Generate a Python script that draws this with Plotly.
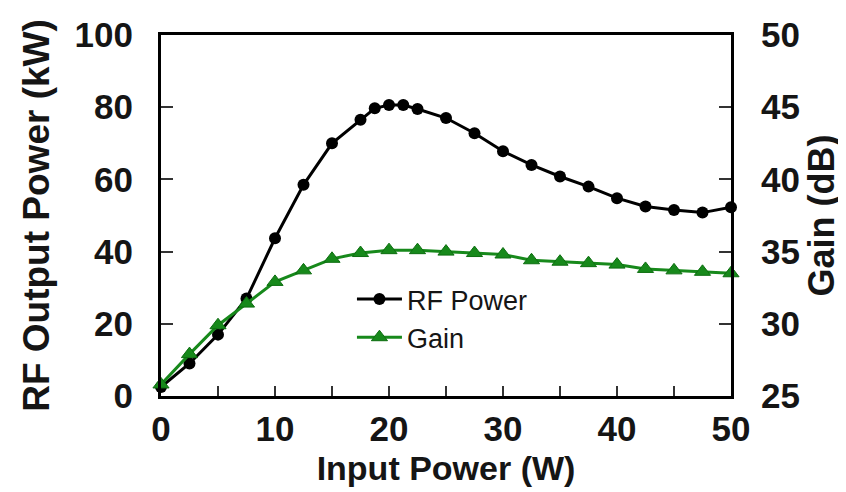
import plotly.graph_objects as go

# Data
input_power_w = [0, 2.5, 5, 7.5, 10, 12.5, 15, 17.5, 18.75, 20, 21.25, 22.5, 25, 27.5,
                 30, 32.5, 35, 37.5, 40, 42.5, 45, 47.5, 50]
rf_power_kw = [2.5, 9, 17, 27, 43.7, 58.5, 70, 76.5, 79.7, 80.6, 80.6, 79.5, 77, 72.8,
               67.8, 64, 60.8, 58, 54.8, 52.5, 51.5, 50.8, 52.3]
gain_x = [0, 2.5, 5, 7.5, 10, 12.5, 15, 17.5, 20, 22.5, 25, 27.5, 30, 32.5, 35,
          37.5, 40, 42.5, 45, 47.5, 50]
gain_db = [25.8, 27.9, 29.9, 31.4, 32.9, 33.7, 34.5, 34.9, 35.1, 35.1, 35.0, 34.9,
           34.8, 34.4, 34.3, 34.2, 34.1, 33.8, 33.7, 33.6, 33.5]

x_ticks = [0, 10, 20, 30, 40, 50]
y1_ticks = [0, 20, 40, 60, 80, 100]
y2_ticks = [25, 30, 35, 40, 45, 50]

FONT = "Liberation Sans, Arial, sans-serif"
TXT = "#151515"
GREEN = "#17891b"

fig = go.Figure()
fig.add_trace(go.Scatter(
    x=input_power_w, y=rf_power_kw, name="RF Power", mode="lines+markers",
    line=dict(color="black", width=3),
    marker=dict(symbol="circle", size=12, color="black"),
    yaxis="y", cliponaxis=False,
))
fig.add_trace(go.Scatter(
    x=gain_x, y=gain_db, name="Gain", mode="lines+markers",
    line=dict(color=GREEN, width=3),
    marker=dict(symbol="triangle-up", size=14, color=GREEN,
                line=dict(color="#0d6e10", width=1)),
    yaxis="y2", cliponaxis=False,
))

axis_common = dict(showgrid=False, zeroline=False, showline=True, linecolor="black",
                   linewidth=3, ticks="inside", tickcolor="#333", tickwidth=1.5,
                   automargin=False,
                   tickfont=dict(family=FONT, size=35, color=TXT, weight="bold"))

fig.update_layout(
    width=846, height=492,
    margin=dict(l=153, r=123, t=27, b=104),
    paper_bgcolor="white", plot_bgcolor="white",
    font=dict(family=FONT, color=TXT),
    xaxis=dict(range=[0, 50], tickvals=x_ticks, ticklen=10, mirror=True,
               minor=dict(dtick=5, ticks="inside", ticklen=10, tickcolor="#333", tickwidth=1.5),
               ticklabelstandoff=0,
               title=dict(text="Input Power (W)",
                          font=dict(family=FONT, size=34, color=TXT, weight="bold"),
                          standoff=10),
               **axis_common),
    yaxis=dict(range=[0, 100], tickvals=y1_ticks, ticklen=12, ticklabelstandoff=18,
               title=dict(text="RF Output Power (kW)",
                          font=dict(family=FONT, size=37, color=TXT, weight="bold"),
                          standoff=14),
               **axis_common),
    yaxis2=dict(range=[25, 50], tickvals=y2_ticks, ticklen=12, overlaying="y", side="right",
                ticklabelstandoff=20,
                title=dict(text="Gain (dB)",
                           font=dict(family=FONT, size=36, color=TXT, weight="bold"),
                           standoff=10),
                **axis_common),
    showlegend=True,
    legend=dict(x=0.335, y=0.335, xanchor="left", yanchor="top", bgcolor="rgba(0,0,0,0)",
                itemwidth=45,
                font=dict(family=FONT, size=27, color=TXT), tracegroupgap=0),
)

fig.write_html("out.html")
